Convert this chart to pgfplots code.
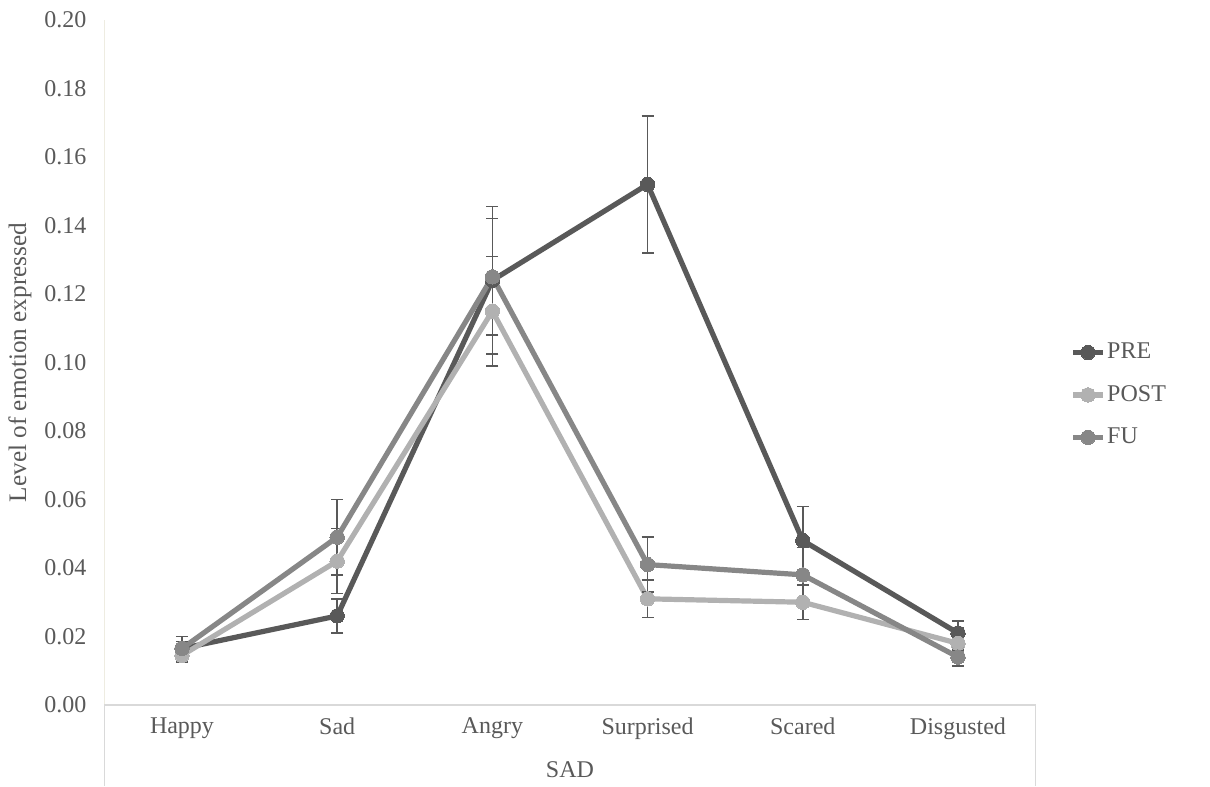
\documentclass[border=0pt]{standalone}
\usepackage{pgfplots}
\pgfplotsset{compat=1.18}
\usepackage{fontspec}
\setmainfont{Liberation Serif}
\definecolor{cpre}{HTML}{595959}
\definecolor{cpost}{HTML}{B1B1B1}
\definecolor{cfu}{HTML}{878787}
\definecolor{txt}{HTML}{595959}
\definecolor{axl}{HTML}{D9D9D9}
\definecolor{yaxl}{HTML}{EEECE1}
\begin{document}
\begin{tikzpicture}
\path (-52.2pt,-40.5pt) rectangle (552.8pt,352.5pt);
\begin{axis}[
  scale only axis,
  width=465.6pt, height=342.5pt,
  xmin=-0.5, xmax=5.5, ymin=0, ymax=0.2,
  clip=false,
  axis line style={draw=none},
  major tick length=0pt,
  xtick={0,1,2,3,4,5},
  xticklabels={Happy,Sad,Angry,Surprised,Scared,Disgusted},
  ytick={0,0.02,...,0.2},
  /pgf/number format/assume math mode=true,
  yticklabel style={/pgf/number format/fixed, /pgf/number format/fixed zerofill, /pgf/number format/precision=2},
  yticklabel style={xshift=-5.5pt, font=\fontsize{12}{14}\selectfont, text=txt},
  xticklabel style={yshift=-3pt, font=\fontsize{12}{14}\selectfont, text=txt},
  ylabel={Level of emotion expressed},
  ylabel style={at={(axis description cs:-0.0906,0.5)}, anchor=center, font=\fontsize{12.6}{15}\selectfont, text=txt},
  legend cell align=left,
  legend style={draw=none, fill=none, at={(rel axis cs:1.037,0.4526)}, anchor=west,
    inner sep=0pt, row sep=11.8pt, font=\fontsize{12}{14}\selectfont, text=txt,
    nodes={inner xsep=0.8pt, inner ysep=0pt}},
  legend image code/.code={\draw[mark repeat=2,mark phase=2,#1] plot coordinates {(0pt,0pt)(7.5pt,0pt)(15pt,0pt)};},
  every axis plot/.append style={line width=2.6pt, mark=*, mark size=3.6pt},
  error bars/y dir=both, error bars/y explicit,
  error bars/error bar style={line width=0.75pt, color=cpre},
  error bars/error mark options={rotate=90, mark size=3pt, line width=0.75pt, color=cpre},
]
\draw[yaxl, line width=0.6pt] (rel axis cs:0,0) -- (rel axis cs:0,1);
\draw[axl, line width=0.6pt] (rel axis cs:0,0) -- (rel axis cs:1,0);
\draw[axl, line width=0.6pt] (rel axis cs:0,0) -- ([yshift=-40.5pt]rel axis cs:0,0);
\draw[axl, line width=0.6pt] (rel axis cs:1,0) -- ([yshift=-40.5pt]rel axis cs:1,0);
\node[text=txt, font=\fontsize{12}{14}\selectfont] at (rel axis cs:0.5,0) [yshift=-32.5pt] {SAD};
\addplot[color=cpre, mark options={fill=cpre, draw=cpre, line width=0pt}] coordinates {
  (0,0.0165) +- (0,0.0035)
  (1,0.026) +- (0,0.005)
  (2,0.124) +- (0,0.0215)
  (3,0.152) +- (0,0.020)
  (4,0.048) +- (0,0.010)
  (5,0.021) +- (0,0.0035)
};
\addlegendentry{PRE}
\addplot[color=cpost, mark options={fill=cpost, draw=cpost, line width=0pt}] coordinates {
  (0,0.0145) +- (0,0.002)
  (1,0.042) +- (0,0.0095)
  (2,0.115) +- (0,0.016)
  (3,0.031) +- (0,0.0055)
  (4,0.030) +- (0,0.005)
  (5,0.018) +- (0,0.002)
};
\addlegendentry{POST}
\addplot[color=cfu, mark options={fill=cfu, draw=cfu, line width=0pt}] coordinates {
  (0,0.0165) +- (0,0.002)
  (1,0.049) +- (0,0.011)
  (2,0.125) +- (0,0.017)
  (3,0.041) +- (0,0.008)
  (4,0.038) +- (0,0.008)
  (5,0.014) +- (0,0.0026)
};
\addlegendentry{FU}
\end{axis}
\end{tikzpicture}
\end{document}
